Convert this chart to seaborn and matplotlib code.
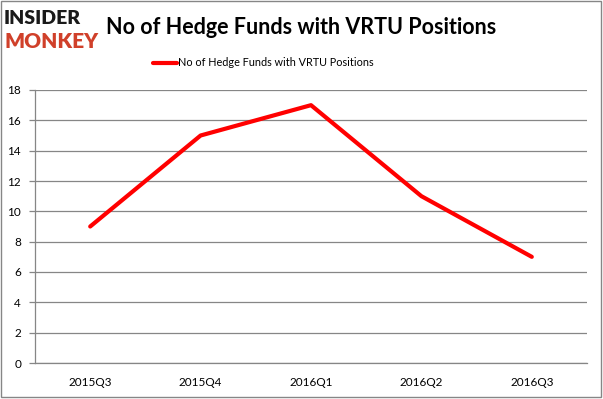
import matplotlib
matplotlib.use("Agg")
import matplotlib.pyplot as plt
import seaborn as sns
import pandas as pd
from matplotlib.patches import Rectangle

quarters = ["2015Q3", "2015Q4", "2016Q1", "2016Q2", "2016Q3"]
funds = [9, 15, 17, 11, 7]
series_name = "No of Hedge Funds with VRTU Positions"

sns.set_theme(style="white")
plt.rcParams["font.family"] = ["Lato", "DejaVu Sans"]
plt.rcParams["text.color"] = "#000000"

df = pd.DataFrame({"quarter": quarters, "funds": funds})

fig = plt.figure(figsize=(6.03, 3.99), dpi=100)
ax = fig.add_axes([35 / 603, 1 - 363 / 399, 552 / 603, 273 / 399])

sns.lineplot(data=df, x="quarter", y="funds", ax=ax, color="#ff0000",
             linewidth=3, label=series_name, legend=False)

ax.set_xlim(-0.5, len(quarters) - 0.5)
ax.set_ylim(0, 18)
ax.set_yticks(range(0, 19, 2))
ax.yaxis.grid(True, color="#868686", linewidth=0.9)
ax.set_axisbelow(True)
ax.set_xlabel("")
ax.set_ylabel("")
for side in ["top", "right"]:
    ax.spines[side].set_visible(False)
for side in ["left", "bottom"]:
    ax.spines[side].set_color("#868686")
    ax.spines[side].set_linewidth(0.9)

ax.set_xticks(range(len(quarters)))
ax.set_xticklabels(quarters)
ax.set_xticks([i - 0.5 for i in range(len(quarters) + 1)], minor=True)
ax.tick_params(axis="x", which="major", length=0, labelsize=8.5, pad=10, colors="#000000")
ax.tick_params(axis="x", which="minor", length=4, width=0.9, color="#868686", direction="out")
ax.tick_params(axis="y", length=4, width=0.9, color="#868686", direction="out",
               labelsize=8.5, pad=6, labelcolor="#000000", left=True)

# title and legend
fig.text(301 / 603, 1 - 27 / 399, series_name, ha="center", va="center",
         fontsize=15.5, fontweight="bold", color="#000000")
handle = plt.Line2D([], [], color="#ff0000", linewidth=3)
fig.legend([handle], [series_name], loc="center", bbox_to_anchor=(263 / 603, 1 - 63 / 399),
           frameon=False, fontsize=7.8, handlelength=2.2, handletextpad=0.1)

# logo
fig.text(4 / 603, 1 - 19 / 399, "INSIDER", ha="left", va="center",
         fontsize=14, fontweight="heavy", color="#1a1a1a")
fig.text(4 / 603, 1 - 41 / 399, "MONKEY", ha="left", va="center",
         fontsize=15, fontweight="heavy", color="#d0402a")

# outer border
fig.patches.append(Rectangle((0.002, 0.004), 0.995, 0.993, transform=fig.transFigure,
                             fill=False, edgecolor="#868686", linewidth=1))

fig.savefig("out.png", dpi=100)
